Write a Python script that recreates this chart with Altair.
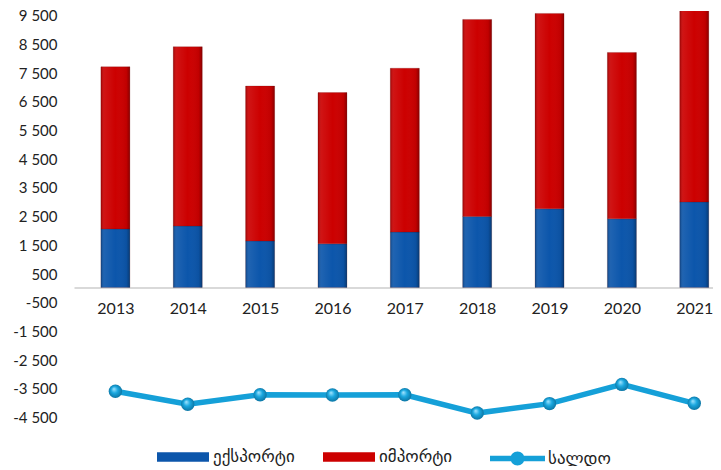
import altair as alt
import pandas as pd

years = [2013, 2014, 2015, 2016, 2017, 2018, 2019, 2020, 2021]
export_vals = [2040, 2140, 1620, 1520, 1930, 2470, 2740, 2390, 2980]
import_vals = [5650, 6250, 5400, 5270, 5710, 6870, 6810, 5800, 7050]
saldo_vals = [-3620, -4070, -3740, -3750, -3740, -4380, -4050, -3380, -4040]
series_names = ["ექსპორტი", "იმპორტი"]
saldo_name = "სალდო"
y_ticks = [-4500, -3500, -2500, -1500, -500, 500, 1500, 2500, 3500, 4500, 5500, 6500, 7500, 8500, 9500]

rows = []
for i, yr in enumerate(years):
    rows.append({"year": yr, "series": series_names[0], "value": export_vals[i], "ord": 0})
    rows.append({"year": yr, "series": series_names[1], "value": import_vals[i], "ord": 1})
bars_df = pd.DataFrame(rows)
saldo_df = pd.DataFrame({"year": years, "value": saldo_vals, "series": [saldo_name] * len(years)})

LABEL_FONT = "Lato"
GEO_FONT = "DejaVu Sans"

x_scale = alt.Scale(domain=[2012.497, 2021.19], nice=False, zero=False)
y_scale = alt.Scale(domain=[-4900, 9634], nice=False, zero=False)

x_axis = alt.Axis(
    values=years, format="d", title=None, ticks=False, tickSize=0, grid=False,
    labelFont=LABEL_FONT, labelFontSize=16, labelColor="#222222", labelPadding=13,
    domainColor="#d9d9d9", domainWidth=2, offset=-140.6, labelFlush=False,
    labelOverlap=False,
)
y_axis = alt.Axis(
    values=y_ticks, format=",d", title=None, ticks=False, tickSize=0, grid=False,
    domain=False, labelFont=LABEL_FONT, labelFontSize=15, labelColor="#222222",
    labelPadding=17, labelOverlap=False, labelFlush=False, labelOffset=1,
)

bars = alt.Chart(bars_df).mark_bar(width=29, clip=True, stroke="#5a0000", strokeWidth=0.4, strokeOpacity=0.5).encode(
    x=alt.X("year:Q", scale=x_scale, axis=x_axis),
    y=alt.Y("sum(value):Q", scale=y_scale, axis=y_axis, stack="zero"),
    color=alt.Color(
        "series:N",
        scale=alt.Scale(domain=series_names, range=["#0c56ab", "#cc0000"]),
        legend=alt.Legend(
            title=None, orient="none", legendX=83, legendY=420, direction="horizontal",
            symbolType="M-1,-0.18H1V0.18H-1Z", symbolSize=2704, symbolStrokeWidth=0,
            labelFont=GEO_FONT, labelFontSize=17, labelColor="#222222",
            columnPadding=28, labelOffset=4, symbolOpacity=1,
        ),
    ),
    order=alt.Order("ord:Q", sort="ascending"),
)

shade = alt.Chart(bars_df).mark_bar(
    width=29, clip=True,
    fill=alt.Gradient(
        gradient="linear", x1=0, y1=0, x2=1, y2=0,
        stops=[alt.GradientStop(offset=0, color="rgba(0,0,0,0.22)"),
               alt.GradientStop(offset=0.12, color="rgba(255,255,255,0.08)"),
               alt.GradientStop(offset=0.5, color="rgba(255,255,255,0.0)"),
               alt.GradientStop(offset=0.88, color="rgba(0,0,0,0.06)"),
               alt.GradientStop(offset=1, color="rgba(0,0,0,0.32)")],
    ),
).encode(
    x=alt.X("year:Q", scale=x_scale, axis=x_axis),
    y=alt.Y("sum(value):Q", scale=y_scale, axis=y_axis, stack="zero"),
    detail="series:N",
    order=alt.Order("ord:Q", sort="ascending"),
)

line = alt.Chart(saldo_df).mark_line(strokeWidth=5.5).encode(
    x=alt.X("year:Q", scale=x_scale, axis=x_axis),
    y=alt.Y("value:Q", scale=y_scale, axis=y_axis),
    stroke=alt.Stroke(
        "series:N",
        scale=alt.Scale(domain=[saldo_name], range=["#15a0d8"]),
        legend=alt.Legend(
            title=None, orient="none", legendX=416, legendY=420, direction="horizontal",
            symbolType="M-1,-0.1H1V0.1H-1Z M0.255,0A0.255,0.255 0 1 1 -0.255,0A0.255,0.255 0 1 1 0.255,0Z",
            symbolSize=3025, symbolFillColor="#15a0d8", symbolStrokeWidth=0,
            labelFont=GEO_FONT, labelFontSize=17, labelColor="#222222", labelOffset=3,
        ),
    ),
)

points = alt.Chart(saldo_df).mark_point(
    shape="circle", filled=True, size=180, opacity=1,
    fill=alt.Gradient(
        gradient="radial", x1=0.38, y1=0.32, r1=0.0, x2=0.5, y2=0.5, r2=0.55,
        stops=[alt.GradientStop(offset=0, color="#a8e6ff"),
               alt.GradientStop(offset=0.45, color="#1aa8e0"),
               alt.GradientStop(offset=1, color="#0a6f9c")],
    ),
).encode(
    x=alt.X("year:Q", scale=x_scale, axis=x_axis),
    y=alt.Y("value:Q", scale=y_scale, axis=y_axis),
)

chart = alt.layer(bars, shade, line, points).properties(
    width=639, height=417,
    autosize=alt.AutoSizeParams(type="none"),
    padding={"left": 66, "top": 3, "right": 0, "bottom": 38},
).configure(
    locale={"number": {"decimal": ".", "thousands": " ", "grouping": [3], "currency": ["", ""], "minus": "-"}},
    view=alt.ViewConfig(stroke=None),
)

chart.save("out.html", embed_options={"renderer": "svg", "actions": False})
